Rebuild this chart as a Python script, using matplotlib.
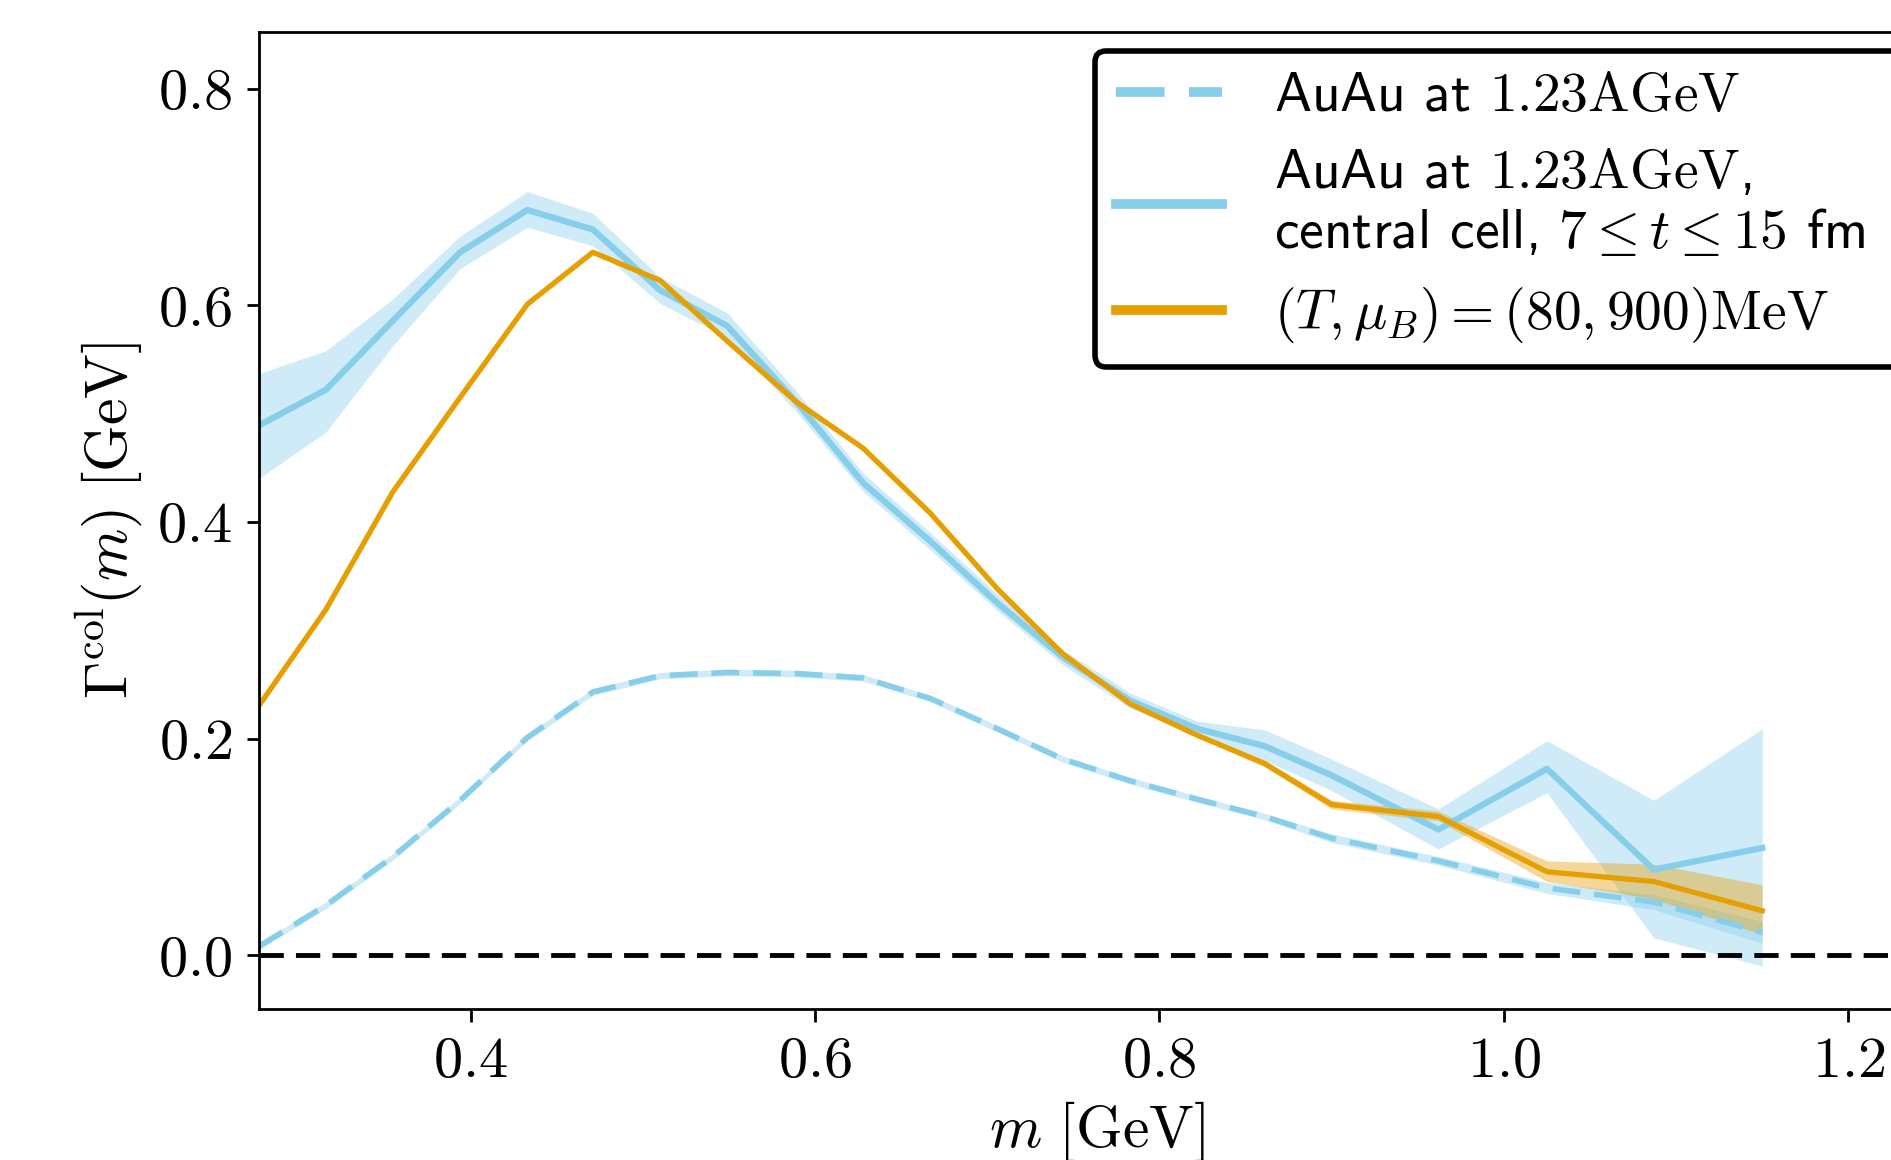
import matplotlib
matplotlib.use("Agg")
import matplotlib.pyplot as plt
import numpy as np

# --- data ---
m = [0.277, 0.316, 0.355, 0.394, 0.433, 0.471, 0.510, 0.549, 0.589, 0.628, 0.667,
     0.706, 0.744, 0.783, 0.822, 0.861, 0.900, 0.962, 1.025, 1.087, 1.150]

# AuAu at 1.23 AGeV (full system, dashed)
full_mean = [0.008, 0.046, 0.091, 0.143, 0.201, 0.243, 0.258, 0.261, 0.260, 0.256, 0.237,
             0.209, 0.181, 0.161, 0.144, 0.128, 0.108, 0.087, 0.062, 0.049, 0.021]
full_lo = [0.005, 0.043, 0.088, 0.140, 0.198, 0.240, 0.255, 0.258, 0.257, 0.253, 0.234,
           0.206, 0.178, 0.158, 0.141, 0.125, 0.104, 0.083, 0.057, 0.042, 0.011]
full_hi = [0.011, 0.049, 0.094, 0.146, 0.204, 0.246, 0.261, 0.264, 0.263, 0.259, 0.240,
           0.212, 0.184, 0.164, 0.147, 0.131, 0.112, 0.091, 0.067, 0.056, 0.031]

# central cell, 7 <= t <= 15 fm
cell_mean = [0.489, 0.522, 0.586, 0.649, 0.688, 0.670, 0.614, 0.581, 0.511, 0.436, 0.382,
             0.325, 0.275, 0.235, 0.209, 0.193, 0.166, 0.116, 0.172, 0.079, 0.099]
cell_lo = [0.440, 0.483, 0.563, 0.634, 0.672, 0.655, 0.602, 0.570, 0.502, 0.428, 0.374,
           0.318, 0.268, 0.228, 0.203, 0.180, 0.152, 0.098, 0.150, 0.016, -0.010]
cell_hi = [0.537, 0.558, 0.606, 0.664, 0.705, 0.685, 0.626, 0.593, 0.521, 0.445, 0.390,
           0.333, 0.282, 0.242, 0.216, 0.208, 0.181, 0.135, 0.198, 0.143, 0.209]

# thermal box (T, mu_B) = (80, 900) MeV
box_mean = [0.230, 0.319, 0.428, 0.515, 0.601, 0.649, 0.623, 0.567, 0.511, 0.468, 0.408,
            0.338, 0.278, 0.232, 0.203, 0.177, 0.139, 0.128, 0.077, 0.068, 0.041]
box_lo = [0.228, 0.317, 0.426, 0.513, 0.599, 0.647, 0.621, 0.565, 0.509, 0.466, 0.406,
          0.336, 0.276, 0.230, 0.201, 0.174, 0.135, 0.124, 0.068, 0.052, 0.019]
box_hi = [0.232, 0.321, 0.430, 0.517, 0.603, 0.651, 0.625, 0.569, 0.513, 0.470, 0.410,
          0.340, 0.280, 0.234, 0.205, 0.180, 0.143, 0.133, 0.087, 0.084, 0.065]

xticks = [0.4, 0.6, 0.8, 1.0, 1.2]
yticks = [0.0, 0.2, 0.4, 0.6, 0.8]

BLUE = "#87CEEB"
ORANGE = "#E69F00"

plt.rcParams["mathtext.fontset"] = "cm"
plt.rcParams["font.family"] = ["cmss10", "DejaVu Sans"]
plt.rcParams["axes.unicode_minus"] = False

fig = plt.figure(figsize=(18.91, 11.6), dpi=100)
ax = fig.add_axes([0.1368, 0.1299, 0.8862, 0.8422])

# bands
ax.fill_between(m, full_lo, full_hi, color=BLUE, alpha=0.4, lw=0)
ax.fill_between(m, cell_lo, cell_hi, color=BLUE, alpha=0.4, lw=0)
ax.fill_between(m, box_lo, box_hi, color=ORANGE, alpha=0.4, lw=0)

# lines
ax.plot(m, full_mean, color=BLUE, lw=4, ls=(0, (5, 2.5)),
        label=r"AuAu at $1.23\mathrm{AGeV}$")
ax.plot(m, cell_mean, color=BLUE, lw=4.5,
        label="AuAu at $1.23\\mathrm{AGeV}$,\ncentral cell, $7 \\leq t \\leq 15$ fm")
ax.plot(m, box_mean, color=ORANGE, lw=3.8,
        label=r"$(T,\mu_B) = (80, 900)\mathrm{MeV}$")

ax.axhline(0, color="k", ls=(0, (5, 2.5)), lw=3.5)

ax.set_xlim(0.277, 1.25)
ax.set_ylim(-0.05, 0.852)
ax.set_xticks(xticks, [f"${v:.1f}$" for v in xticks])
ax.set_yticks(yticks, [f"${v:.1f}$" for v in yticks])
ax.tick_params(labelsize=42, length=9, width=2, pad=10)
for sp in ax.spines.values():
    sp.set_linewidth(2)

ax.set_xlabel(r"$m\ [\mathrm{GeV}]$", fontsize=43, labelpad=8)
ax.set_ylabel(r"$\Gamma^{\mathrm{col}}(m)\ [\mathrm{GeV}]$", fontsize=43, labelpad=10)

# legend box runs past the right edge of the figure, as in the original crop
leg = ax.legend(loc="upper left", bbox_to_anchor=(0.499, 0.5, 0.53, 0.481),
                mode="expand", borderaxespad=0,
                fontsize=40, frameon=True, fancybox=True, framealpha=1,
                handlelength=1.9, handletextpad=0.95, labelspacing=0.47,
                borderpad=0.38)
leg.get_frame().set_edgecolor("k")
leg.get_frame().set_linewidth(4)
for line in leg.get_lines():
    line.set_linewidth(7)

fig.savefig("out.png", dpi=100)
